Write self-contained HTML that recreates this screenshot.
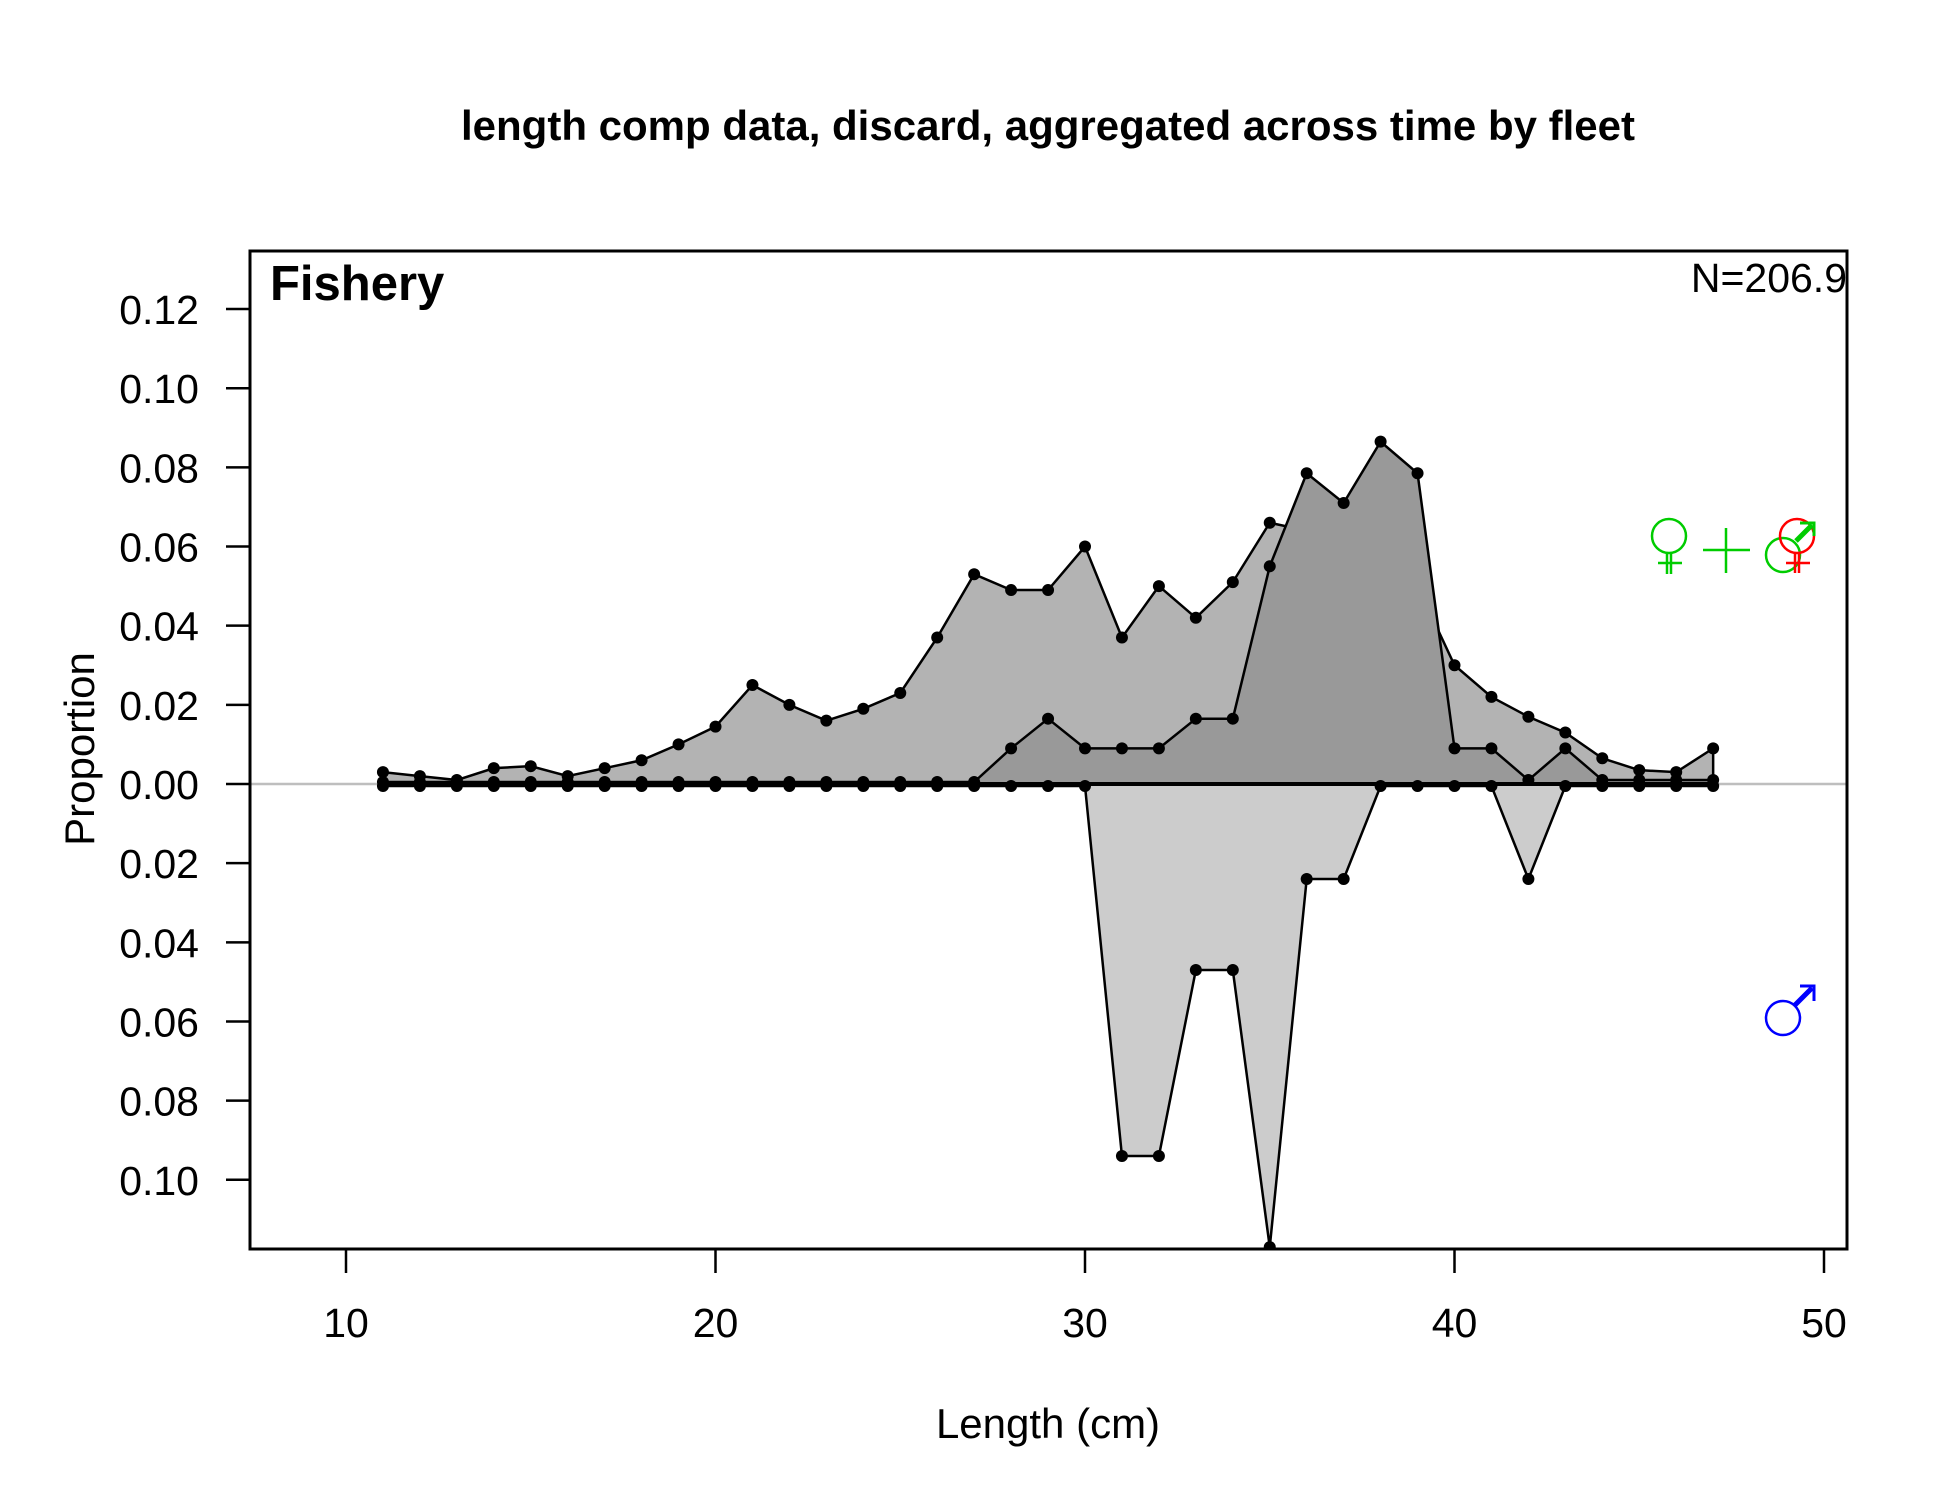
<!DOCTYPE html>
<html><head><meta charset="utf-8"><style>
html,body{margin:0;padding:0;background:#fff;}
svg{display:block;font-family:"Liberation Sans",Arial,sans-serif;}
</style></head><body>
<svg id="chart" width="1950" height="1500" viewBox="0 0 1950 1500" xmlns="http://www.w3.org/2000/svg">
<rect x="0" y="0" width="1950" height="1500" fill="#fff"/>
<text x="1048" y="140" font-size="42" font-weight="bold" text-anchor="middle">length comp data, discard, aggregated across time by fleet</text>
<g id="plot"></g>
<g id="axes"></g>
<text x="270" y="300" font-size="49" font-weight="bold">Fishery</text>
<text x="1847" y="292" font-size="41" text-anchor="end">N=206.9</text>
<text transform="translate(94,749) rotate(-90)" font-size="42" text-anchor="middle">Proportion</text>
<text x="1048" y="1438" font-size="42" text-anchor="middle">Length (cm)</text>
<g stroke="#00cc00" stroke-width="2.5" fill="none">
<circle cx="1669" cy="536" r="17"/><line x1="1667" y1="553" x2="1667" y2="574"/><line x1="1671" y1="553" x2="1671" y2="574"/><line x1="1658" y1="563" x2="1682" y2="563"/>
</g>
<g stroke="#00cc00" stroke-width="2.5">
<line x1="1703" y1="550" x2="1750" y2="550"/><line x1="1726" y1="528" x2="1726" y2="573"/>
</g>
<g fill="none" stroke-width="2.5">
<circle cx="1783" cy="555" r="17" stroke="#00cc00"/>
<circle cx="1797" cy="536" r="17" stroke="#ff0000"/>
<line x1="1795" y1="553" x2="1795" y2="573" stroke="#ff0000"/><line x1="1799" y1="553" x2="1799" y2="573" stroke="#ff0000"/>
<line x1="1786" y1="563" x2="1810" y2="563" stroke="#ff0000"/>
<line x1="1796" y1="541" x2="1812" y2="525" stroke="#00cc00" stroke-width="5"/>
<polyline points="1800,523 1814,523 1814,536" stroke="#00cc00" stroke-width="3"/>
</g>
<g fill="none" stroke="#0000ff" stroke-width="2.5">
<circle cx="1783" cy="1018" r="17"/>
<line x1="1795" y1="1005" x2="1812" y2="988" stroke-width="5"/>
<polyline points="1800,986 1814,986 1814,1001" stroke-width="3"/>
</g>
</svg>
<script>
const lengths = [11,12,13,14,15,16,17,18,19,20,21,22,23,24,25,26,27,28,29,30,31,32,33,34,35,36,37,38,39,40,41,42,43,44,45,46,47];
const combinedVals = [0.003,0.002,0.001,0.004,0.0045,0.002,0.004,0.006,0.010,0.0145,0.025,0.020,0.016,0.019,0.023,0.037,0.053,0.049,0.049,0.060,0.037,0.050,0.042,0.051,0.066,0.064,0.060,0.058,0.050,0.030,0.022,0.017,0.013,0.0065,0.0035,0.003,0.009];
const femaleVals = [0.0005,0.0005,0.0005,0.0005,0.0005,0.0005,0.0005,0.0005,0.0005,0.0005,0.0005,0.0005,0.0005,0.0005,0.0005,0.0005,0.0005,0.009,0.0165,0.009,0.009,0.009,0.0165,0.0165,0.055,0.0785,0.071,0.0865,0.0785,0.009,0.009,0.001,0.009,0.001,0.001,0.001,0.001];
const maleVals = [0.0005,0.0005,0.0005,0.0005,0.0005,0.0005,0.0005,0.0005,0.0005,0.0005,0.0005,0.0005,0.0005,0.0005,0.0005,0.0005,0.0005,0.0005,0.0005,0.0005,0.094,0.094,0.047,0.047,0.117,0.024,0.024,0.0005,0.0005,0.0005,0.0005,0.024,0.0005,0.0005,0.0005,0.0005,0.0005];
const xTicks = [10,20,30,40,50];
const yTicks = [0.12,0.10,0.08,0.06,0.04,0.02,0,-0.02,-0.04,-0.06,-0.08,-0.10];
const yTickLabels = ["0.12","0.10","0.08","0.06","0.04","0.02","0.00","0.02","0.04","0.06","0.08","0.10"];

const NS = "http://www.w3.org/2000/svg";
const L = 250, R = 1847, T = 251, B = 1249;
const X = v => 346 + (v - 10) * 36.95;
const Y = v => 784 - v * 3958;
const plot = document.getElementById('plot');
const axes = document.getElementById('axes');
function mk(tag, attrs, parent) {
  const e = document.createElementNS(NS, tag);
  for (const k in attrs) e.setAttribute(k, attrs[k]);
  parent.appendChild(e);
  return e;
}
const clip = mk('clipPath', {id: 'pc'}, plot);
mk('rect', {x: L, y: T, width: R - L, height: B - T}, clip);
const g = mk('g', {'clip-path': 'url(#pc)'}, plot);

const zl = mk('line', {x1: L, x2: R, y1: Y(0), y2: Y(0), stroke: '#bebebe', 'stroke-width': 2.5}, g);



function area(vals, sign, fill, name) {
  let pts = `${X(lengths[0])},${Y(0)} `;
  lengths.forEach((l, i) => { pts += `${X(l)},${Y(sign * vals[i])} `; });
  pts += `${X(lengths[lengths.length - 1])},${Y(0)}`;
  const p = mk('polygon', {points: pts, fill: fill, stroke: '#000', 'stroke-width': 2.5}, g);
  
  
  lengths.forEach((l, i) => {
    const c = mk('circle', {cx: X(l), cy: Y(sign * vals[i]), r: 6, fill: '#000'}, g);
    
    
  });
}
area(combinedVals, 1, '#b3b3b3', 'combined');
area(femaleVals, 1, '#999999', 'female');
area(maleVals, -1, '#cccccc', 'male');
const bl = mk('line', {x1: X(lengths[0]), x2: X(lengths[lengths.length - 1]), y1: Y(0), y2: Y(0), stroke: '#000', 'stroke-width': 4}, g);



const box = mk('rect', {x: L, y: T, width: R - L, height: B - T, fill: 'none', stroke: '#000', 'stroke-width': 3}, axes);


xTicks.forEach(t => {
  const ln = mk('line', {x1: X(t), x2: X(t), y1: B, y2: B + 24, stroke: '#000', 'stroke-width': 2.5}, axes);
  
  
  const tx = mk('text', {x: X(t), y: 1337, 'font-size': 41, 'text-anchor': 'middle'}, axes);
  tx.textContent = t;
  
  
});
yTicks.forEach((t, i) => {
  const ln = mk('line', {x1: L - 24, x2: L, y1: Y(t), y2: Y(t), stroke: '#000', 'stroke-width': 2.5}, axes);
  
  
  const tx = mk('text', {x: 199, y: Y(t) + 15, 'font-size': 41, 'text-anchor': 'end'}, axes);
  tx.textContent = yTickLabels[i];
  
  
});
</script>
</body></html>
